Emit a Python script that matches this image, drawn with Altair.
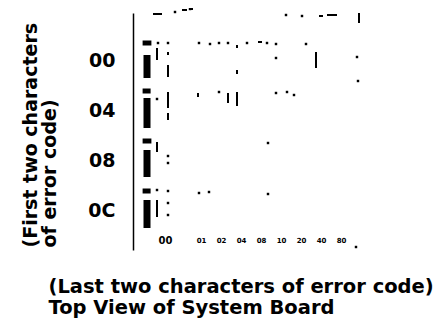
import json
import altair as alt
import pandas as pd

# Rows (first two characters) and columns (last two characters)
row_labels = ["00", "04", "08", "0C"]
row_pos = [0, 1, 2, 3]
col_labels = ["00", "01", "02", "04", "08", "10", "20", "40", "80"]
col_pos = [-0.8, 1, 2, 3, 4, 5, 6, 7, 8]

# Bold chip bars (left column of each row)
bar_x = [-1.7, -1.7, -1.7, -1.7]
bar_y1 = [-0.1, 0.76, 1.8, 2.8]
bar_y2 = [0.36, 1.36, 2.34, 3.36]

# Small heavy blobs above each bold bar
blob_x1 = [-1.92, -1.92, -1.92, -1.92]
blob_x2 = [-1.48, -1.52, -1.48, -1.52]
blob_y = [-0.34, 0.62, 1.62, 2.62]

# Thin vertical strokes
vl_x = [-0.65, -1.2, -0.65, 2.8, 2.8, 6.75, 8.9, -0.65, -0.65, 0.85, 2.35, 2.8, -1.2, -1.2]
vl_y1 = [0.1, -0.24, -0.16, 0.2, -0.3, -0.16, -0.94, 0.64, 1.06, 0.66, 0.66, 0.64, 1.64, 2.8]
vl_y2 = [0.34, 0.0, -0.1, 0.28, -0.24, 0.16, -0.74, 0.96, 1.2, 0.74, 0.86, 0.92, 1.84, 3.14]

# Thin horizontal dashes
hd_x1 = [-1.4, 0.05, 0.45, 2.55, 6.9, 7.3, 3.85]
hd_x2 = [-0.95, 0.3, 0.6, 2.75, 7.1, 7.8, 4.05]
hd_y = [-0.92, -1.0, -1.02, -1.08, -0.88, -0.9, -0.36]

# Small specks
dot_x = [-0.3, 0.45, 5.25, 6.05,
         -1.15, -0.65, 0.9, 1.45, 1.9, 2.35, 3.3, 4.3, 4.75, 6.25,
         4.75, 8.8, 8.85,
         -1.2, 1.9, 4.75, 5.3, 5.65,
         4.35, -0.65, -0.65,
         -1.2, -0.65, 0.9, 1.4, 4.35, -0.65, -0.65, 8.75]
dot_y = [-0.96, -1.02, -0.9, -0.88,
         -0.34, -0.34, -0.34, -0.32, -0.34, -0.34, -0.34, -0.34, -0.32, -0.32,
         -0.04, -0.06, 0.42,
         0.78, 0.64, 0.66, 0.64, 0.7,
         1.66, 1.92, 2.06,
         2.6, 2.62, 2.66, 2.64, 2.68, 2.86, 3.1, 3.74]

bars = pd.DataFrame({"x": bar_x, "y": bar_y1, "y2": bar_y2})
blobs = pd.DataFrame({"x": blob_x1, "x2": blob_x2, "y": blob_y})
vlines = pd.DataFrame({"x": vl_x, "y": vl_y1, "y2": vl_y2})
hdashes = pd.DataFrame({"x": hd_x1, "x2": hd_x2, "y": hd_y})
dots = pd.DataFrame({"x": dot_x, "y": dot_y})

FONT = "DejaVu Sans"
x_scale = alt.Scale(domain=[-2.4, 9.35], nice=False, zero=False)
y_scale = alt.Scale(domain=[-0.94, 3.8], reverse=True, nice=False, zero=False)

x_label_expr = "%s[indexof(%s, datum.value)]" % (json.dumps(col_labels), json.dumps(col_pos))
y_label_expr = "%s[indexof(%s, datum.value)]" % (json.dumps(row_labels), json.dumps(row_pos))

x_axis = alt.Axis(
    values=col_pos, labelExpr=x_label_expr, grid=False, domain=False, ticks=False, tickSize=0,
    labelFont=FONT, labelFontWeight="bold", labelColor="black",
    labelFontSize={"condition": {"test": "datum.value < 0", "value": 10}, "value": 7},
    labelBaseline="middle", labelPadding=-10, labelFlush=False, labelOverlap=False,
    title=["(Last two characters of error code)", "Top View of System Board"],
    titleFont=FONT, titleFontWeight="bold", titleFontSize=19.5, titleColor="black",
    titleLineHeight=21, titleAlign="left", titleBaseline="top", titleX=-85, titleY=27,
)
y_axis = alt.Axis(
    values=row_pos, labelExpr=y_label_expr, grid=False, ticks=False, tickSize=0,
    domain=True, domainColor="black", domainWidth=1.5,
    labelFont=FONT, labelFontWeight="bold", labelColor="black", labelFontSize=19,
    labelPadding=18, labelFlush=False, labelOverlap=False,
    title=["(First two characters", "of error code)"],
    titleFont=FONT, titleFontWeight="bold", titleFontSize=19, titleColor="black",
    titleLineHeight=19, titleAngle=270, titleAlign="left", titleBaseline="top",
    titleX=-112, titleY=234,
)

x_enc = alt.X("x:Q", scale=x_scale, axis=x_axis)
y_enc = alt.Y("y:Q", scale=y_scale, axis=y_axis)

dot_layer = alt.Chart(dots).mark_square(size=6, color="black", opacity=1).encode(x=x_enc, y=y_enc)
bar_layer = alt.Chart(bars).mark_rule(color="black", strokeWidth=7, strokeCap="butt").encode(
    x=x_enc, y=y_enc, y2="y2:Q")
blob_layer = alt.Chart(blobs).mark_rule(color="black", strokeWidth=5, strokeCap="butt").encode(
    x=x_enc, x2="x2:Q", y=y_enc)
vline_layer = alt.Chart(vlines).mark_rule(color="black", strokeWidth=2, strokeCap="butt").encode(
    x=x_enc, y=y_enc, y2="y2:Q")
hdash_layer = alt.Chart(hdashes).mark_rule(color="black", strokeWidth=2, strokeCap="butt").encode(
    x=x_enc, x2="x2:Q", y=y_enc)

chart = alt.layer(dot_layer, bar_layer, blob_layer, vline_layer, hdash_layer).properties(
    width=235, height=237,
    padding={"left": 125, "top": 5, "right": 71, "bottom": 70},
    autosize="none", background="white",
).configure_view(strokeWidth=0)

chart.save("out.html", embed_options={"renderer": "svg", "actions": False})
